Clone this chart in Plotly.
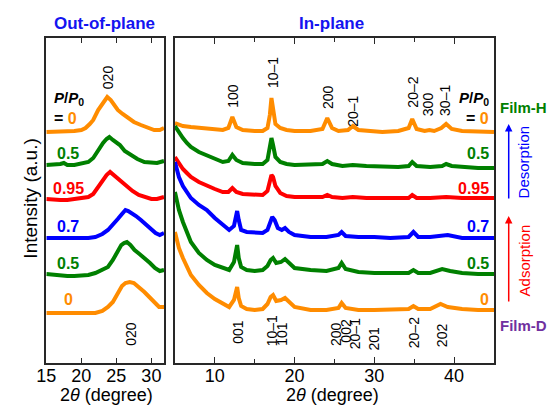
import plotly.graph_objects as go

# ---------------- data (2theta in degree, intensity in a.u., stacked) ----------------
# Out-of-plane panel
oop_h0_x = [15,16,17,18,19,20,20.6,21.2,21.7,22.4,23.1,23.7,24.2,24.8,25.2,25.9,26.6,27.5,28.5,29.5,30.4,31.2,31.8]
oop_h0_y = [231,231,232,232,232,233,235,239,243,253,261,266,263,257,253,249,245,241,238,235,233,233,235]
oop_d05_x = [15,16,17,17.5,18,19,20,21,21.7,22.4,23.1,23.6,24.0,24.5,25.0,25.5,26.2,27,28,29,30,30.8,31.8]
oop_d05_y = [198,198,199,200,198,198,199,201,205,213,220,224,226,223,220,218,212,208,204,201,200,200,202]
oop_095_x = [15,16,17,18,19,20,21,21.7,22.4,23.1,23.6,24.1,24.6,25.2,25.8,26.5,27.3,28.2,29,30,30.8,31.8]
oop_095_y = [164,163,163,163,164,164,166,169,176,183,188,191,188,184,180,176,172,168,166,164,164,166]
oop_07_x = [15,16,17,18,19,20,21,22,23,23.8,24.5,25.2,25.8,26.3,26.7,27.2,27.8,28.5,29.2,30,30.6,31.2,31.8]
oop_07_y = [125,125,125,125,124,124,125,126,129,133,138,144,149,153,152,150,147,143,139,134,130,128,130]
oop_a05_x = [15,16,17,18,19,20,21,22,23,23.8,24.5,25.2,25.7,26.1,26.5,27,27.6,28.3,29,29.8,30.5,31.2,31.8]
oop_a05_y = [89,88,88,87,87,87,88,90,93,96,103,113,118,120,121,118,113,109,105,100,95,92,93]
oop_d0_x = [15,16,17,18,19,20,21,22,23,23.8,24.5,25.2,25.8,26.3,26.9,27.5,28.2,29,29.7,30.4,31.1,31.8]
oop_d0_y = [50,50,49,49,49,49,49,50,52,56,61,69,77,80,81,80,76,71,66,61,56,56]

# In-plane panel
ip_h0_x = [5,6,7,8,9,10,11,11.7,12.2,12.7,13.5,15,16,16.6,16.9,17.1,17.3,17.6,18.2,19,20,22,23.5,24.1,24.7,25.5,26.7,27.3,28,29,31,33,34.3,34.75,35.3,36.3,36.9,37.5,38.4,39,39.7,41,43,45]
ip_h0_y = [240,237,236,235,234,233,233,235,246,236,233,232,232,235,248,265,253,239,235,233,232,232,234,245,235,232,233,237,233,232,231,232,235,244,234,232,233,232,235,239,234,232,231,231]
ip_d05_x = [5,5.5,6,6.5,7,8,9,10,11,11.7,12.2,12.7,13.5,15,16,16.6,16.9,17.1,17.3,17.6,18.2,19,20,22,23.5,24.1,24.7,26,27.3,29,31,33,34.3,34.75,35.3,37,38.5,39,39.7,41,43,45]
ip_d05_y = [237,230,225,220,216,211,208,204,201,202,208,203,200,199,199,203,215,225,218,206,201,199,198,198,199,202,199,197,198,197,196,196,197,201,197,196,197,199,197,196,195,195]
ip_095_x = [5,5.5,6,6.5,7,8,9,10,11,11.7,12.2,12.7,13.5,15,16,16.6,16.9,17.1,17.3,17.6,18.2,19,20,22,23.5,24.1,24.7,26,27.3,29,31,33,34.3,34.75,35.3,37,39,41,43,45]
ip_095_y = [206,200,194,190,186,181,177,174,171,171,175,171,169,168,168,172,181,188,186,177,170,167,166,166,166,168,166,165,166,165,165,165,165,168,165,165,166,165,165,165]
ip_07_x = [5,5.5,6,6.5,7,8,9,10,11,11.8,12.4,12.6,12.8,13.0,13.3,14,15,16,16.6,16.9,17.2,17.5,17.9,18.4,18.8,19.3,20,22,24,25.5,25.9,26.4,28,30,32,34.3,34.9,35.5,37,39.2,41,43,45]
ip_07_y = [201,186,177,171,165,158,153,145,139,133,137,145,152,143,133,131,130,130,133,141,146,143,135,133,135,131,128,126,126,128,131,127,126,126,125,126,131,126,126,128,125,125,125]
ip_a05_x = [5,5.5,6,6.5,7,8,9,10,11,11.8,12.4,12.6,12.8,13.0,13.3,14,15,16,16.6,17.0,17.3,17.7,18.3,18.8,19.3,20,22,24,25.5,25.9,26.4,28,30,32,34.3,34.9,35.5,37,38.5,39.5,41,43,45]
ip_a05_y = [171,153,141,130,121,110,103,98,95,93,101,108,118,105,96,93,92,93,97,103,105,100,101,104,100,95,93,92,95,100,94,91,90,90,90,93,90,90,94,92,90,89,89]
ip_d0_x = [5,5.5,6,6.5,7,8,9,10,11,11.8,12.4,12.6,12.8,13.0,13.3,14,15,16,16.6,17.0,17.3,17.7,18.3,18.8,19.3,20,22,24,25.5,25.9,26.4,28,30,32,34.3,34.9,35.5,37,38.3,39.2,41,43,45]
ip_d0_y = [131,115,105,96,88,78,70,64,59,56,63,68,76,65,57,54,53,54,59,66,68,62,63,65,61,56,53,53,55,60,55,53,53,53,54,57,54,54,59,56,54,53,53]

# peak labels: (text, 2theta, height in a.u.)
oop_top_labels = [("020", 23.83, 286)]
oop_bot_labels = [("020", 27.06, 29)]
ip_top_labels = [("100", 12.26, 267), ("10\u20131", 17.3, 290), ("200", 24.2, 266), ("20\u20131", 27.3, 252),
                 ("20\u20132", 34.8, 271), ("300", 36.75, 259), ("30\u20131", 38.85, 263)]
ip_bot_labels = [("001", 12.88, 31), ("10\u20131", 17.2, 32), ("101", 18.4, 29), ("200", 25.2, 29),
                 ("002", 26.4, 32), ("20\u20131", 27.6, 29), ("201", 29.9, 24), ("20\u20132", 35.0, 30), ("202", 38.5, 28)]

# pressure labels (P/P0) for curves from top to bottom
pp_labels = ["0", "0.5", "0.95", "0.7", "0.5", "0"]
pp_heights = [245, 210, 175, 137, 100, 64]

ORANGE = "rgb(255,140,0)"
GREEN = "rgb(0,128,0)"
RED = "rgb(255,0,0)"
BLUE = "rgb(0,0,255)"
PURPLE = "rgb(112,48,160)"
colors = [ORANGE, GREEN, RED, BLUE, GREEN, ORANGE]

FONT = "Arial, Liberation Sans, sans-serif"

fig = go.Figure()

oop = [(oop_h0_x, oop_h0_y), (oop_d05_x, oop_d05_y), (oop_095_x, oop_095_y),
       (oop_07_x, oop_07_y), (oop_a05_x, oop_a05_y), (oop_d0_x, oop_d0_y)]
ip = [(ip_h0_x, ip_h0_y), (ip_d05_x, ip_d05_y), (ip_095_x, ip_095_y),
      (ip_07_x, ip_07_y), (ip_a05_x, ip_a05_y), (ip_d0_x, ip_d0_y)]

for (x, y), c in zip(oop, colors):
    fig.add_trace(go.Scatter(x=x, y=y, mode="lines", line=dict(color=c, width=4),
                             xaxis="x", yaxis="y", showlegend=False))
for (x, y), c in zip(ip, colors):
    fig.add_trace(go.Scatter(x=x, y=y, mode="lines", line=dict(color=c, width=4),
                             xaxis="x2", yaxis="y2", showlegend=False))

ann = []
def rot(text, x, y, xr, yr):
    ann.append(dict(text=text, x=x, y=y, xref=xr, yref=yr, showarrow=False, textangle=-90,
                    xanchor="center", yanchor="middle",
                    font=dict(family=FONT, size=14, color="black")))

for t, x, y in oop_top_labels + oop_bot_labels:
    rot(t, x, y, "x", "y")
for t, x, y in ip_top_labels + ip_bot_labels:
    rot(t, x, y, "x2", "y2")

# P/P0 headers
for xr, yr, xpos, anchor in [("x", "y", 15.8, "left"), ("x2", "y2", 44.6, "right")]:
    ann.append(dict(text="<b><i>P</i>/<i>P</i><sub>0</sub></b>", x=xpos, y=265, xref=xr, yref=yr,
                    showarrow=False, xanchor=anchor, yanchor="middle",
                    font=dict(family=FONT, size=15, color="black")))
ann.append(dict(text="<b>= </b><b style='color:%s'>0</b>" % ORANGE, x=15.8, y=pp_heights[0], xref="x", yref="y",
                showarrow=False, xanchor="left", yanchor="middle", font=dict(family=FONT, size=16, color="black")))
ann.append(dict(text="<b>= </b><b style='color:%s'>0</b>" % ORANGE, x=44.6, y=pp_heights[0], xref="x2", yref="y2",
                showarrow=False, xanchor="right", yanchor="middle", font=dict(family=FONT, size=16, color="black")))
for i, (lab, h, c) in enumerate(zip(pp_labels, pp_heights, colors)):
    if i == 0:
        continue
    ann.append(dict(text="<b>%s</b>" % lab, x=18.1, y=h, xref="x", yref="y", showarrow=False,
                    xanchor="center", yanchor="middle", font=dict(family=FONT, size=16, color=c)))
    ann.append(dict(text="<b>%s</b>" % lab, x=44.6, y=h, xref="x2", yref="y2", showarrow=False,
                    xanchor="right", yanchor="middle", font=dict(family=FONT, size=16, color=c)))

W, H = 547, 405
def px(x): return x / W
def py(y): return 1 - y / H

def pa(text, x, y, size, color, xanchor="center", angle=0):
    return dict(text=text, x=px(x), y=py(y), xref="paper", yref="paper", showarrow=False,
                xanchor=xanchor, yanchor="middle", textangle=angle,
                font=dict(family=FONT, size=size, color=color))

ann += [
    pa("<b>Out-of-plane</b>", 96, 23, 17, "rgb(20,20,240)"),
    pa("<b>In-plane</b>", 327, 23, 17, "rgb(20,20,240)"),
    pa("Intensity (a.u.)", 20, 199, 19, "black", angle=-90),
    pa("2<i>\u03b8</i> (degree)", 98, 395, 18, "black"),
    pa("2<i>\u03b8</i> (degree)", 328, 395, 18, "black"),
    pa("<b>Film-H</b>", 497, 108, 15, GREEN, xanchor="left"),
    pa("<b>Film-D</b>", 497, 325, 15, PURPLE, xanchor="left"),
    pa("Desorption", 523, 162, 15, BLUE, angle=-90),
    pa("Adsorption", 524, 260, 15, RED, angle=-90),
    dict(text="", x=px(508), y=py(124), xref="paper", yref="paper", showarrow=True, ax=0, ay=76,
         arrowhead=2, arrowsize=1, arrowwidth=1.5, arrowcolor=BLUE),
    dict(text="", x=px(508), y=py(216), xref="paper", yref="paper", showarrow=True, ax=0, ay=87,
         arrowhead=2, arrowsize=1, arrowwidth=1.5, arrowcolor=RED),
]

axis_common = dict(showline=True, linecolor="rgb(40,40,40)", linewidth=1.5, mirror="ticks",
                   ticks="inside", tickcolor="rgb(40,40,40)", tickwidth=1.2, showgrid=False, zeroline=False,
                   ticklabelstandoff=-4,
                   tickfont=dict(family=FONT, size=18, color="black"))
ydom = [py(363), py(38)]
fig.update_layout(
    width=W, height=H, margin=dict(l=0, r=0, t=0, b=0),
    paper_bgcolor="white", plot_bgcolor="white",
    xaxis=dict(domain=[px(37), px(157)], range=[15, 31.82], tick0=0, dtick=5, ticklen=5, anchor="y", **axis_common),
    xaxis2=dict(domain=[px(168), px(493)], range=[5, 45], tick0=0, dtick=10, ticklen=6, anchor="y2",
                minor=dict(dtick=5, tick0=0, ticks="inside", ticklen=4, tickcolor="rgb(40,40,40)"), **axis_common),
    yaxis=dict(domain=ydom, range=[0, 325], anchor="x", showline=True, linecolor="rgb(40,40,40)", linewidth=1.5,
               mirror=True, ticks="", showticklabels=False, showgrid=False, zeroline=False),
    yaxis2=dict(domain=ydom, range=[0, 325], anchor="x2", showline=True, linecolor="rgb(40,40,40)", linewidth=1.5,
                mirror=True, ticks="", showticklabels=False, showgrid=False, zeroline=False),
    annotations=ann,
)

fig.write_html("out.html")
